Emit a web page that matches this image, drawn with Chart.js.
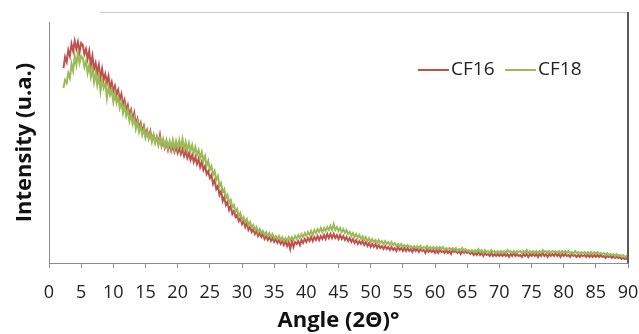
<!DOCTYPE html>
<html>
<head>
<meta charset="utf-8">
<script src="https://cdn.jsdelivr.net/npm/chart.js@4"></script>
<style>
  html, body { margin: 0; padding: 0; background: #fff; }
  #wrap { width: 639px; height: 334px; position: relative; }
</style>
</head>
<body>
<div id="wrap"><canvas id="xrdChart" width="639" height="334"></canvas></div>
<script>
// Scan grid (2Θ, degrees)
const angleStart = 2.25;
const angleStep = 0.25;
const xTicks = [0, 5, 10, 15, 20, 25, 30, 35, 40, 45, 50, 55, 60, 65, 70, 75, 80, 85, 90];
const seriesNames = ["CF16", "CF18"];

// Intensity (arbitrary units), one value per 0.25°
const cf16 = [
  195, 206, 201, 213, 207, 219, 212, 222, 214, 221, 211, 220,
  218, 209, 214, 204, 212, 197, 207, 194, 200, 190, 198, 185, 194, 183, 189, 180, 187, 175, 181, 172,
  177, 168, 173, 163, 169, 158, 163, 153, 158, 148, 153, 143, 150, 138, 144, 135, 140, 131, 137, 128,
  133, 126, 132, 123, 128, 121, 126, 119, 128, 117, 122, 115, 120, 113, 119, 112, 117, 111, 116, 110,
  115, 109, 114, 107, 112, 105, 110, 103, 108, 101, 106, 99, 104, 96, 101, 93, 97, 89, 92, 85,
  88, 79, 83, 74, 77, 68, 72, 62, 66, 58, 61, 53, 57, 49, 52, 46, 48, 42, 45, 39,
  42, 36, 40, 33, 36, 31, 34, 29, 32, 27, 30, 26, 29, 24, 27, 23, 26, 22, 25, 21,
  24, 20, 23, 19, 22, 18, 22, 17, 21, 14, 22, 16, 21, 19, 22, 18, 23, 20, 24, 21,
  25, 22, 26, 22, 26, 23, 27, 23, 27, 24, 28, 24, 29, 25, 29, 25, 29, 25, 28, 24,
  28, 24, 27, 23, 26, 22, 25, 21, 24, 20, 23, 19, 22, 19, 22, 18, 21, 17, 20, 16,
  19, 16, 19, 15, 18, 15, 17, 14, 17, 14, 16, 13, 16, 13, 15, 12, 16, 13, 15, 12,
  15, 12, 15, 12, 14, 11, 15, 12, 14, 11, 14, 12, 13, 10, 14, 11, 13, 11, 13, 10,
  13, 10, 13, 11, 12, 10, 13, 10, 12, 9, 13, 11, 12, 10, 12, 9, 12, 10, 12, 10,
  11, 9, 11, 8, 10, 8, 11, 8, 10, 7, 10, 8, 9, 7, 10, 7, 9, 7, 9, 7,
  9, 7, 9, 7, 9, 6, 9, 7, 10, 7, 9, 7, 8, 6, 9, 7, 9, 6, 9, 7,
  9, 7, 9, 6, 9, 7, 10, 7, 9, 6, 9, 7, 9, 7, 10, 7, 9, 6, 9, 7,
  9, 7, 8, 6, 9, 7, 8, 6, 8, 6, 8, 7, 8, 6, 8, 6, 8, 6, 8, 6,
  8, 6, 8, 6, 7, 5, 7, 6, 7, 5, 7, 5, 6, 5, 6, 4, 5, 4, 5, 3
];

const cf18 = [
  175, 183, 180, 190, 185, 199, 192, 207, 198, 210, 200, 207,
  205, 196, 202, 190, 198, 186, 194, 181, 190, 178, 187, 172, 183, 175, 180, 165, 176, 168, 173, 161,
  170, 160, 166, 155, 161, 150, 157, 147, 153, 142, 149, 139, 145, 134, 141, 131, 137, 128, 134, 125,
  131, 124, 130, 121, 128, 120, 126, 118, 125, 118, 124, 116, 123, 115, 122, 115, 123, 114, 122, 115,
  123, 115, 124, 114, 121, 113, 120, 112, 118, 110, 116, 108, 113, 105, 111, 102, 107, 97, 102, 93,
  97, 88, 92, 83, 87, 77, 80, 71, 74, 65, 68, 60, 63, 56, 58, 51, 54, 47, 50, 43,
  46, 41, 44, 38, 41, 36, 38, 33, 36, 31, 34, 30, 32, 28, 31, 27, 30, 26, 29, 25,
  27, 24, 27, 23, 26, 22, 25, 22, 26, 23, 26, 23, 27, 24, 28, 25, 29, 26, 30, 27,
  31, 28, 32, 28, 33, 30, 34, 31, 35, 31, 35, 32, 36, 33, 37, 33, 39, 33, 36, 32,
  35, 31, 34, 30, 33, 29, 31, 27, 30, 26, 29, 25, 28, 24, 27, 23, 26, 22, 25, 21,
  24, 21, 23, 20, 23, 20, 22, 19, 22, 19, 21, 18, 21, 18, 20, 17, 19, 17, 19, 16,
  18, 16, 18, 16, 17, 15, 17, 15, 17, 15, 17, 14, 16, 15, 17, 14, 16, 14, 16, 14,
  16, 14, 16, 14, 16, 13, 15, 14, 15, 13, 15, 13, 15, 12, 14, 13, 15, 12, 14, 12,
  13, 11, 13, 11, 13, 11, 14, 11, 13, 10, 13, 11, 12, 10, 13, 11, 12, 10, 12, 10,
  12, 10, 12, 10, 13, 11, 12, 10, 12, 10, 12, 11, 12, 10, 12, 10, 13, 10, 12, 10,
  12, 10, 12, 10, 12, 10, 13, 11, 12, 10, 12, 10, 12, 11, 12, 10, 12, 10, 12, 10,
  12, 10, 12, 10, 11, 9, 12, 10, 11, 9, 11, 10, 11, 9, 11, 9, 11, 9, 11, 9,
  11, 9, 10, 9, 10, 8, 10, 8, 9, 8, 9, 7, 9, 7, 8, 7, 8, 6, 7, 5
];

const colors = ["#C0504D", "#9BBB59"];

function toPoints(values) {
  return values.map((v, i) => ({ x: angleStart + i * angleStep, y: v }));
}

// Legend + frame lines drawn by hand (Excel style)
const extrasPlugin = {
  id: "extras",
  afterDraw(chart) {
    const ctx = chart.ctx;
    const area = chart.chartArea;
    ctx.save();

    // outer frame pieces
    ctx.strokeStyle = "#c8c8c8";
    ctx.lineWidth = 1;
    ctx.beginPath();
    ctx.moveTo(100, 12.5);
    ctx.lineTo(area.right, 12.5);
    ctx.stroke();
    ctx.strokeStyle = "#5a5a5a";
    ctx.lineWidth = 2;
    ctx.beginPath();
    ctx.moveTo(area.right, 12);
    ctx.lineTo(area.right, area.bottom);
    ctx.stroke();

    // legend
    ctx.font = "19px 'Open Sans'";
    ctx.textBaseline = "middle";
    ctx.fillStyle = "#222";
    const legendY = 70;
    const items = [{ x: 418 }, { x: 505 }];
    items.forEach((it, i) => {
      ctx.strokeStyle = colors[i];
      ctx.lineWidth = 2;
      ctx.beginPath();
      ctx.moveTo(it.x, legendY);
      ctx.lineTo(it.x + 31, legendY);
      ctx.stroke();
      ctx.fillText(seriesNames[i], it.x + 33, legendY);
    });
    ctx.restore();
  }
};

new Chart(document.getElementById("xrdChart"), {
  type: "line",
  data: {
    datasets: [
      {
        label: seriesNames[0],
        data: toPoints(cf16),
        borderColor: colors[0],
        borderWidth: 2,
        pointRadius: 0,
        tension: 0,
        order: 1
      },
      {
        label: seriesNames[1],
        data: toPoints(cf18),
        borderColor: colors[1],
        borderWidth: 2,
        pointRadius: 0,
        tension: 0,
        order: 0
      }
    ]
  },
  options: {
    responsive: false,
    animation: false,
    layout: { padding: { left: 12, top: 22, right: 11, bottom: 0 } },
    plugins: {
      legend: { display: false },
      tooltip: { enabled: false }
    },
    scales: {
      x: {
        type: "linear",
        min: 0,
        max: 90,
        afterBuildTicks: (axis) => { axis.ticks = xTicks.map(v => ({ value: v })); },
        afterFit: (axis) => {
          axis.height = 71;
          axis.paddingLeft = 0;
          axis.paddingRight = 0;
        },
        grid: {
          drawOnChartArea: false,
          drawTicks: true,
          tickLength: 5,
          color: "#8c8c8c"
        },
        border: { display: true, color: "#8c8c8c", width: 1 },
        ticks: {
          color: "#222",
          font: { family: "'Open Sans'", size: 18 },
          padding: 14,
          maxRotation: 0,
          autoSkip: false
        },
        title: {
          display: true,
          text: "Angle (2Θ)°",
          color: "#111",
          font: { family: "'Open Sans'", size: 22, weight: "bold" },
          padding: { top: 0, bottom: 0 }
        }
      },
      y: {
        min: 0,
        max: 241,
        afterFit: (axis) => { axis.width = 37; },
        grid: { display: false },
        border: { display: true, color: "#8c8c8c", width: 1 },
        ticks: { display: false },
        title: {
          display: true,
          text: "Intensity (u.a.)",
          color: "#111",
          font: { family: "'Open Sans'", size: 22, weight: "bold" },
          padding: { top: 0, bottom: 0 }
        }
      }
    }
  },
  plugins: [extrasPlugin]
});
</script>
</body>
</html>
